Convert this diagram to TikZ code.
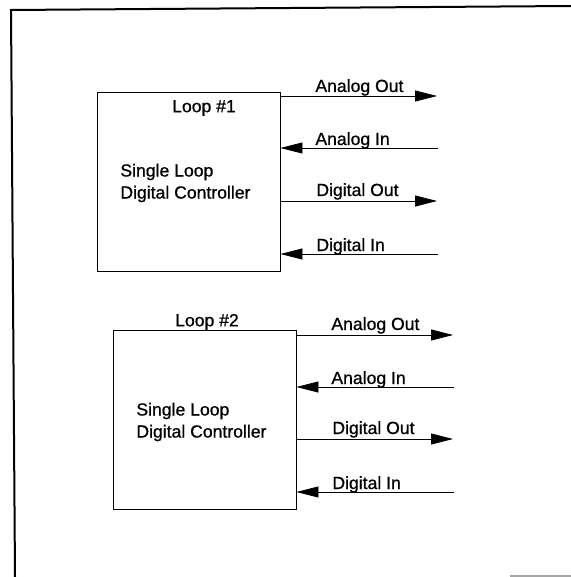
\documentclass[tikz,border=0pt]{standalone}
\usepackage{fontspec}
\setmainfont{Liberation Sans}
\newfontfamily\scanfont[FakeBold=0.8]{Liberation Sans}
\usetikzlibrary{arrows.meta}

\tikzset{
    ctrl/.style={draw, thin, inner sep=0pt, minimum width=91.5pt, minimum height=89.5pt},
    sig/.style={thin, -{Triangle[length=11pt, width=5.5pt]}},
    txt/.style={inner sep=0pt, font=\scanfont\fontsize{8.8}{10.5}\selectfont},
}

\begin{document}
\begin{tikzpicture}[x=0.5pt, y=-0.5pt]
        \useasboundingbox (0,0) rectangle (571,577);

        % frame
        \draw[line width=1pt] (571,6) -- (11,10) -- (15,577);
        \draw[line width=1pt, black!35] (510,576) -- (571,576);

        % loop 1
        \node[ctrl] (loopA) at (188.5,181.5) {};
        \node[txt] (titleA) at (204,108) {Loop \#1};
        \node[txt, anchor=west] (nameA1) at (120,172) {Single Loop};
        \node[txt, anchor=west] (nameA2) at (120,194) {Digital Controller};

        \coordinate (aoutA) at (437,96);
        \coordinate (ainA) at (438,148);
        \coordinate (doutA) at (437,201);
        \coordinate (dinA) at (438,254);

        \draw[sig] (aoutA -| loopA.east) -- (aoutA);
        \draw[sig] (ainA) -- (ainA -| loopA.east);
        \draw[sig] (doutA -| loopA.east) -- (doutA);
        \draw[sig] (dinA) -- (dinA -| loopA.east);

        \node[txt, anchor=base west] (laoutA) at (315,92) {Analog Out};
        \node[txt, anchor=base west] (lainA) at (315,145) {Analog In};
        \node[txt, anchor=base west] (ldoutA) at (316,196) {Digital Out};
        \node[txt, anchor=base west] (ldinA) at (316,251) {Digital In};

        % loop 2
        \node[ctrl] (loopB) at (204.5,419.5) {};
        \node[txt] (titleB) at (207,322) {Loop \#2};
        \node[txt, anchor=west] (nameB1) at (136,411) {Single Loop};
        \node[txt, anchor=west] (nameB2) at (136,433) {Digital Controller};

        \coordinate (aoutB) at (453,335);
        \coordinate (ainB) at (454,387);
        \coordinate (doutB) at (453,439);
        \coordinate (dinB) at (454,492);

        \draw[sig] (aoutB -| loopB.east) -- (aoutB);
        \draw[sig] (ainB) -- (ainB -| loopB.east);
        \draw[sig] (doutB -| loopB.east) -- (doutB);
        \draw[sig] (dinB) -- (dinB -| loopB.east);

        \node[txt, anchor=base west] (laoutB) at (331,330) {Analog Out};
        \node[txt, anchor=base west] (lainB) at (331,384) {Analog In};
        \node[txt, anchor=base west] (ldoutB) at (332,434) {Digital Out};
        \node[txt, anchor=base west] (ldinB) at (332,489) {Digital In};
\end{tikzpicture}
\end{document}
